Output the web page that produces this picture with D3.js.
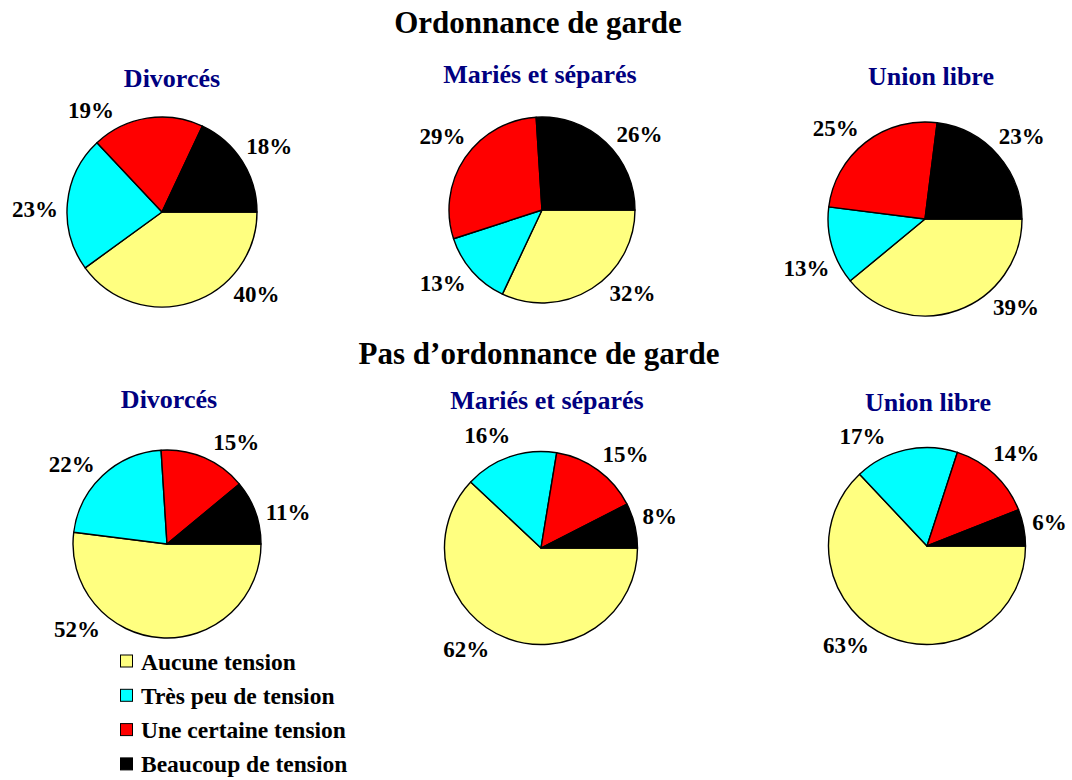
<!DOCTYPE html>
<html>
<head>
<meta charset="utf-8">
<script src="https://cdn.jsdelivr.net/npm/d3@7"></script>
<style>
  html, body { margin: 0; padding: 0; background: #fff; }
  svg { display: block; }
  text { font-family: "Liberation Serif", "Times New Roman", serif; font-weight: bold; }
</style>
</head>
<body>
<svg id="chart" width="1072" height="780"></svg>
<script>
// ---------- data ----------
const categories = ["Aucune tension", "Très peu de tension", "Une certaine tension", "Beaucoup de tension"];
const colors = ["#FFFF80", "#00FFFF", "#FF0000", "#000000"];
const groupTitles = ["Ordonnance de garde", "Pas d\u2019ordonnance de garde"];
const subtitles = ["Divorcés", "Mariés et séparés", "Union libre"];

// shares (%) per category, in the order of `categories`
const ordDivorces = [40, 23, 19, 18];
const ordMaries   = [32, 13, 29, 26];
const ordUnion    = [39, 13, 25, 23];
const sansDivorces = [52, 22, 15, 11];
const sansMaries   = [62, 15.6, 14.9, 7.5];
const sansUnion    = [63, 17, 14, 6];

const pieSeries = [ordDivorces, ordMaries, ordUnion, sansDivorces, sansMaries, sansUnion];

// ---------- layout ----------
const panels = [
  { cx: 162, cy: 212, r: 95,   sx: 172, sy: 87 },
  { cx: 542, cy: 210, r: 93,   sx: 540, sy: 83 },
  { cx: 925, cy: 219, r: 97,   sx: 931, sy: 85 },
  { cx: 167, cy: 544, r: 94,   sx: 169, sy: 408 },
  { cx: 541, cy: 548, r: 96.5, sx: 547, sy: 409 },
  { cx: 927, cy: 546, r: 98.5, sx: 928, sy: 411 }
];
// manual label turns (degrees, from slice middle), as in the original layout
const labelTurn = [
  [-30, -4, -25, 0],
  [-14, 4, 3, 8],
  [-25, -7, -6, 0],
  [42, -6, 10, 5],
  [14, -6, 5, -1],
  [15, -17, 0, 0]
];

const svg = d3.select("#chart");

// group titles
svg.append("text").attr("x", 538).attr("y", 33).attr("text-anchor", "middle")
  .attr("font-size", 31).attr("fill", "#000").text(groupTitles[0]);
svg.append("text").attr("x", 539).attr("y", 363.5).attr("text-anchor", "middle")
  .attr("font-size", 31).attr("fill", "#000").text(groupTitles[1]);

const pie = d3.pie().sort(null).value(d => d)
  .startAngle(Math.PI / 2).endAngle(Math.PI / 2 + 2 * Math.PI);

const labelSize = 23;

pieSeries.forEach((vals, i) => {
  const p = panels[i];
  svg.append("text").attr("x", p.sx).attr("y", p.sy).attr("text-anchor", "middle")
    .attr("font-size", 26).attr("fill", "#000080").text(subtitles[i % 3]);

  const g = svg.append("g").attr("transform", `translate(${p.cx},${p.cy})`);
  const arcs = pie(vals);
  const arc = d3.arc().innerRadius(0).outerRadius(p.r);

  g.selectAll("path").data(arcs).join("path")
    .attr("d", arc)
    .attr("fill", (d, j) => colors[j])
    .attr("stroke", "#000")
    .attr("stroke-width", 1.4)
    .attr("stroke-linejoin", "round");

  arcs.forEach((d, j) => {
    const a = (d.startAngle + d.endAngle) / 2 + labelTurn[i][j] * Math.PI / 180;
    const sx = Math.sin(a), sy = -Math.cos(a);
    const t = g.append("text").attr("text-anchor", "middle")
      .attr("font-size", labelSize).attr("fill", "#000")
      .text(Math.round(d.data) + "%");
    const w = t.node().getComputedTextLength();
    const rr = p.r + 9;
    const x = rr * sx + sx * w / 2;
    const y = rr * sy + sy * 19;
    t.attr("x", x).attr("y", y + labelSize * 0.33);
  });
});

// legend
const legend = svg.append("g").attr("transform", "translate(120,669.5)");
categories.forEach((c, j) => {
  const row = legend.append("g").attr("transform", `translate(0,${j * 34.3})`);
  row.append("rect").attr("x", 0.5).attr("y", -14.5).attr("width", 12).attr("height", 12)
    .attr("fill", colors[j]).attr("stroke", "#000").attr("stroke-width", 1);
  row.append("text").attr("x", 21).attr("y", 0).attr("font-size", 23.5)
    .attr("fill", "#000").text(c);
});
</script>
</body>
</html>
